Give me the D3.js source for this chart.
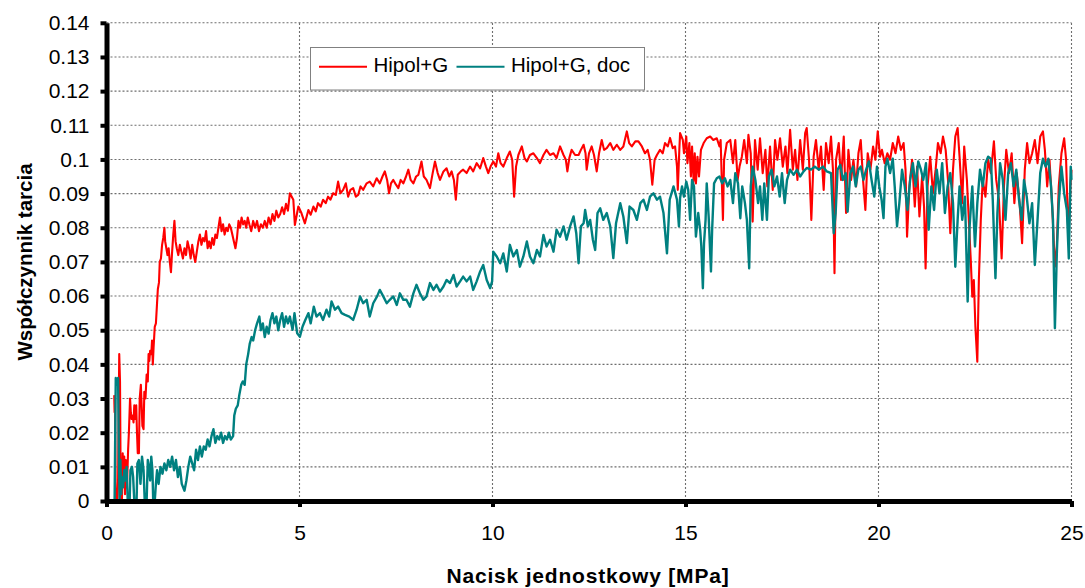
<!DOCTYPE html>
<html lang="pl">
<head>
<meta charset="utf-8">
<script src="https://d3js.org/d3.v7.min.js"></script>
<style type="text/css">
	body { margin:0; background:#fff; }
	svg { display:block; font-family:"Liberation Sans", Arial, sans-serif; }
</style>
</head>
<body>
<script type="text/javascript">
// series names (legend)
var seriesNames = ["Hipol+G", "Hipol+G, doc"];

// Hipol+G  [nacisk MPa, wspolczynnik]
var hipolG = [
 [0.20,0.031],[0.21,0.026],[0.22,0.030],[0.24,0.000],[0.28,0.000],[0.30,0.006],[0.33,0.043],[0.35,0.035],[0.37,0.000],[0.40,0.000],
 [0.42,0.014],[0.44,0.005],[0.46,0.013],[0.48,0.002],[0.50,0.012],[0.53,0.004],[0.56,0.015],[0.58,0.020],[0.61,0.030],[0.63,0.026],
 [0.65,0.024],[0.68,0.025],[0.70,0.023],[0.72,0.028],[0.74,0.024],[0.77,0.028],[0.79,0.020],[0.81,0.014],[0.84,0.014],[0.86,0.030],
 [0.89,0.034],[0.91,0.028],[0.93,0.022],[0.96,0.021],[0.98,0.032],[1.01,0.030],[1.04,0.037],[1.07,0.035],[1.09,0.043],[1.11,0.041],
 [1.13,0.044],[1.16,0.043],[1.18,0.047],[1.20,0.040],[1.22,0.045],[1.25,0.051],[1.28,0.052],[1.31,0.058],[1.33,0.062],[1.36,0.064],
 [1.38,0.070],[1.41,0.071],[1.44,0.075],[1.47,0.077],[1.50,0.080],[1.52,0.076],[1.55,0.074],[1.58,0.072],[1.61,0.074],[1.64,0.070],
 [1.67,0.067],[1.70,0.073],[1.73,0.078],[1.76,0.082],[1.79,0.076],[1.82,0.074],[1.86,0.072],[1.90,0.075],[1.94,0.073],[1.98,0.071],
 [2.02,0.074],[2.06,0.072],[2.10,0.076],[2.14,0.074],[2.18,0.071],[2.22,0.075],[2.26,0.072],[2.30,0.070],[2.34,0.073],[2.38,0.076],
 [2.42,0.078],[2.46,0.075],[2.50,0.077],[2.54,0.076],[2.58,0.079],[2.62,0.074],[2.66,0.076],[2.70,0.074],[2.74,0.077],[2.78,0.075],
 [2.82,0.078],[2.86,0.077],[2.90,0.080],[2.94,0.083],[2.98,0.079],[3.02,0.081],[3.06,0.078],[3.10,0.080],[3.14,0.079],[3.18,0.081],
 [3.22,0.080],[3.26,0.078],[3.30,0.076],[3.34,0.074],[3.38,0.077],[3.42,0.082],[3.46,0.080],[3.50,0.083],[3.54,0.081],[3.58,0.082],
 [3.62,0.080],[3.66,0.083],[3.70,0.081],[3.75,0.079],[3.80,0.082],[3.85,0.080],[3.90,0.082],[3.95,0.079],[4.00,0.081],[4.05,0.080],
 [4.10,0.082],[4.15,0.080],[4.20,0.083],[4.25,0.081],[4.30,0.084],[4.35,0.082],[4.40,0.085],[4.45,0.083],[4.50,0.084],[4.55,0.086],
 [4.60,0.084],[4.65,0.087],[4.70,0.085],
 [4.75,0.0901],[4.84,0.0882],[4.88,0.0808],[4.97,0.0862],[5.05,0.0843],[5.14,0.0813],[5.23,0.0852],[5.29,0.0838],[5.36,0.0862],[5.42,0.0848],
 [5.48,0.0872],[5.55,0.0862],[5.61,0.0882],[5.68,0.0872],[5.74,0.0891],[5.80,0.0882],[5.87,0.0901],[5.94,0.0896],[6.00,0.0935],[6.06,0.0901],
 [6.13,0.0911],[6.20,0.0930],[6.26,0.0891],[6.32,0.0911],[6.39,0.0916],[6.46,0.0891],[6.52,0.0896],[6.58,0.0921],[6.65,0.0911],[6.74,0.0930],
 [6.82,0.0935],[6.91,0.0921],[7.00,0.0945],[7.08,0.0930],[7.15,0.0950],[7.21,0.0965],[7.27,0.0940],[7.32,0.0901],[7.37,0.0930],[7.43,0.0940],
 [7.50,0.0926],[7.56,0.0916],[7.62,0.0940],[7.69,0.0930],[7.76,0.0950],[7.82,0.0970],[7.88,0.0940],[7.95,0.0930],[8.02,0.0950],[8.08,0.0955],
 [8.16,0.0994],[8.22,0.0950],[8.29,0.0940],[8.38,0.0916],[8.45,0.0960],[8.51,0.0994],[8.58,0.0960],[8.64,0.0940],[8.73,0.0965],[8.81,0.0974],
 [8.88,0.0950],[8.94,0.0965],[9.00,0.0940],[9.05,0.0882],[9.10,0.0955],[9.18,0.0965],[9.24,0.0970],[9.33,0.0960],[9.42,0.0979],[9.50,0.0965],
 [9.59,0.0989],[9.68,0.0974],[9.76,0.1004],[9.83,0.0979],[9.89,0.0960],[9.95,0.0979],[10.02,0.0994],[10.09,0.0979],[10.15,0.1018],[10.21,0.0989],
 [10.28,0.0979],[10.37,0.1004],[10.45,0.1023],[10.51,0.0999],[10.56,0.0891],[10.61,0.0979],[10.67,0.1013],[10.76,0.1038],[10.83,0.1004],[10.89,0.0994],
 [10.97,0.1013],[11.06,0.1018],[11.15,0.1004],[11.23,0.0989],[11.32,0.1013],[11.40,0.1028],[11.49,0.1013],[11.58,0.1018],[11.66,0.1004],[11.75,0.1038],
 [11.84,0.1013],[11.90,0.0999],[11.94,0.0965],[11.99,0.1004],[12.05,0.1028],[12.14,0.1013],[12.23,0.1013],[12.29,0.1028],[12.36,0.1043],[12.41,0.1018],
 [12.44,0.0970],[12.50,0.1018],[12.57,0.1038],[12.63,0.1013],[12.70,0.0965],[12.76,0.1018],[12.83,0.1057],[12.89,0.1028],[12.96,0.1033],[13.05,0.1048],
 [13.13,0.1028],[13.22,0.1043],[13.31,0.1028],[13.39,0.1038],[13.48,0.1082],[13.54,0.1048],[13.61,0.1038],[13.70,0.1053],[13.78,0.1053],[13.87,0.1038],
 [13.95,0.1018],[14.02,0.1028],[14.08,0.0999],[14.14,0.0926],[14.20,0.0999],[14.26,0.1013],[14.34,0.1028],[14.41,0.1018],[14.47,0.1048],[14.54,0.1038],
 [14.60,0.1063],[14.67,0.1033],[14.73,0.1038],[14.78,0.0979],[14.80,0.0911],[14.84,0.1028],
 [14.86,0.1077],[14.93,0.1057],[14.96,0.1018],[15.02,0.1067],[15.05,0.0989],[15.10,0.1048],[15.14,0.0950],[15.17,0.1038],[15.21,0.0935],[15.24,0.1018],
 [15.27,0.0930],[15.31,0.1008],[15.35,0.0950],[15.40,0.1028],[15.47,0.1048],[15.55,0.1062],[15.64,0.1067],[15.72,0.1057],[15.81,0.1062],[15.88,0.1038],
 [15.91,0.1057],[15.97,0.0823],[16.00,0.0999],[16.07,0.1048],[16.16,0.1057],[16.23,0.0989],[16.29,0.1057],[16.35,0.0940],[16.40,0.0979],[16.46,0.1008],
 [16.52,0.1057],[16.59,0.0989],[16.63,0.1072],[16.69,0.1018],[16.74,0.0818],[16.80,0.1057],[16.87,0.0970],[16.93,0.1062],[17.00,0.0960],[17.07,0.1028],
 [17.12,0.0921],[17.19,0.1038],[17.26,0.0911],[17.32,0.1057],[17.38,0.0999],[17.45,0.1062],[17.52,0.0979],[17.59,0.1038],[17.64,0.0960],[17.71,0.1087],
 [17.78,0.0970],[17.84,0.1028],[17.90,0.0940],[17.97,0.1057],[18.04,0.0970],[18.10,0.1077],[18.14,0.1092],[18.20,0.0999],[18.26,0.0823],[18.32,0.1008],
 [18.38,0.1057],[18.45,0.0970],[18.51,0.1038],[18.58,0.0911],[18.64,0.1048],[18.71,0.0989],[18.77,0.1067],[18.82,0.0970],[18.86,0.0667],[18.90,0.0999],
 [18.97,0.1048],[19.03,0.0940],[19.10,0.1067],[19.16,0.0843],[19.22,0.1028],[19.29,0.0940],[19.35,0.0999],[19.42,0.0921],[19.48,0.1018],[19.54,0.1057],
 [19.60,0.0940],[19.66,0.0852],[19.72,0.1018],[19.79,0.0970],[19.86,0.1038],[19.92,0.0999],[19.98,0.1082],
 [20.04,0.1008],[20.09,0.1028],[20.16,0.0989],[20.23,0.1018],[20.30,0.0999],[20.37,0.1048],[20.44,0.1018],[20.51,0.1067],[20.58,0.1028],[20.65,0.1048],
 [20.70,0.0970],[20.74,0.0774],[20.80,0.0921],[20.87,0.0999],[20.94,0.0862],[21.00,0.0979],[21.06,0.0833],[21.13,0.0950],[21.18,0.0862],[21.22,0.0681],
 [21.27,0.0921],[21.34,0.1008],[21.41,0.0901],[21.48,0.0970],[21.54,0.1048],[21.61,0.1018],[21.67,0.1067],[21.74,0.1028],[21.80,0.0940],[21.86,0.0784],
 [21.93,0.0970],[21.99,0.1067],[22.05,0.1092],[22.10,0.1008],[22.17,0.0872],[22.22,0.1038],[22.29,0.0940],[22.34,0.0823],[22.39,0.0706],[22.43,0.0598],
 [22.47,0.0647],[22.51,0.0511],[22.56,0.0408],[22.60,0.0647],[22.65,0.0823],[22.70,0.0940],[22.77,0.0891],[22.84,0.0999],[22.91,0.0960],[22.99,0.1053],
 [23.05,0.0940],[23.12,0.0882],[23.19,0.0710],[23.25,0.0921],[23.31,0.1028],[23.38,0.0960],[23.45,0.1018],[23.52,0.0872],[23.58,0.0960],[23.65,0.0882],
 [23.72,0.0755],[23.79,0.0970],[23.85,0.1048],[23.91,0.0989],[23.98,0.1018],[24.05,0.1057],[24.12,0.0989],[24.19,0.1067],[24.26,0.1082],[24.31,0.1028],
 [24.37,0.0921],[24.43,0.0999],[24.50,0.0862],[24.57,0.0686],[24.62,0.0745],[24.67,0.0921],[24.74,0.1018],[24.81,0.1062],[24.86,0.0999],[24.92,0.0764],
 [24.97,0.0921],[25.00,0.0970]
];

// Hipol+G, doc
var hipolGDoc = [
 [0.21,0.000],[0.24,0.036],[0.27,0.034],[0.30,0.036],[0.32,0.015],[0.34,0.000],[0.36,0.012],[0.38,0.002],[0.40,0.007],[0.43,0.004],
 [0.46,0.009],[0.49,0.006],[0.52,0.010],[0.55,0.000],[0.60,0.000],[0.62,0.009],[0.66,0.010],[0.69,0.007],[0.72,0.000],[0.78,0.000],
 [0.80,0.011],[0.84,0.012],[0.88,0.005],[0.92,0.013],[0.96,0.009],[0.99,0.000],[1.04,0.000],[1.07,0.012],[1.10,0.010],[1.13,0.006],
 [1.16,0.013],[1.19,0.009],[1.21,0.000],[1.25,0.000],[1.28,0.005],[1.31,0.009],[1.35,0.005],[1.40,0.010],[1.45,0.008],[1.50,0.011],
 [1.55,0.009],[1.60,0.012],[1.65,0.010],[1.70,0.013],[1.75,0.009],[1.80,0.012],[1.85,0.007],[1.90,0.010],[1.95,0.005],[2.02,0.003],
 [2.07,0.006],[2.12,0.010],[2.17,0.013],[2.22,0.011],[2.27,0.009],[2.32,0.015],[2.37,0.012],[2.42,0.016],[2.47,0.013],[2.52,0.016],
 [2.57,0.015],[2.62,0.018],[2.67,0.016],[2.72,0.019],[2.77,0.021],[2.82,0.017],[2.87,0.019],[2.92,0.018],[2.97,0.020],[3.02,0.017],
 [3.07,0.019],[3.12,0.018],[3.17,0.020],[3.22,0.018],[3.28,0.019],[3.31,0.025],[3.35,0.027],[3.40,0.028],[3.44,0.031],[3.49,0.034],
 [3.53,0.035],[3.58,0.034],[3.62,0.040],[3.67,0.043],[3.71,0.046],[3.76,0.048],[3.80,0.047],[3.85,0.050],[3.90,0.052],[3.96,0.054],
 [4.00,0.050],[4.05,0.052],[4.10,0.048],[4.15,0.051],[4.20,0.049],[4.25,0.053],[4.30,0.055],[4.35,0.052],[4.40,0.054],[4.45,0.050],
 [4.50,0.053],[4.55,0.055],[4.60,0.051],[4.65,0.054],[4.70,0.052],
 [4.75,0.0540],[4.82,0.0501],[4.87,0.0550],[4.94,0.0491],[5.01,0.0481],[5.08,0.0511],[5.15,0.0530],[5.23,0.0550],[5.29,0.0520],[5.37,0.0569],
 [5.44,0.0540],[5.53,0.0550],[5.61,0.0530],[5.70,0.0560],[5.77,0.0540],[5.83,0.0584],[5.92,0.0560],[6.00,0.0569],[6.09,0.0550],[6.18,0.0545],
 [6.29,0.0540],[6.39,0.0530],[6.48,0.0560],[6.57,0.0599],[6.65,0.0579],[6.74,0.0589],[6.82,0.0540],[6.91,0.0579],[7.01,0.0599],[7.08,0.0618],
 [7.17,0.0599],[7.26,0.0579],[7.34,0.0589],[7.43,0.0599],[7.52,0.0574],[7.60,0.0608],[7.69,0.0589],[7.77,0.0589],[7.86,0.0569],[7.95,0.0608],
 [8.03,0.0633],[8.12,0.0608],[8.21,0.0589],[8.29,0.0599],[8.38,0.0638],[8.47,0.0618],[8.55,0.0633],[8.64,0.0613],[8.73,0.0628],[8.81,0.0647],
 [8.90,0.0638],[8.99,0.0662],[9.07,0.0628],[9.16,0.0643],[9.24,0.0657],[9.33,0.0643],[9.42,0.0657],[9.50,0.0618],[9.59,0.0643],[9.68,0.0672],
 [9.76,0.0691],[9.85,0.0647],[9.94,0.0623],[9.99,0.0643],[10.02,0.0730],[10.11,0.0716],[10.20,0.0696],[10.28,0.0725],[10.37,0.0672],[10.45,0.0750],
 [10.54,0.0716],[10.63,0.0735],[10.71,0.0686],[10.80,0.0716],[10.89,0.0760],[10.97,0.0716],[11.06,0.0696],[11.15,0.0735],[11.23,0.0716],[11.32,0.0779],
 [11.40,0.0745],[11.49,0.0765],[11.58,0.0730],[11.66,0.0794],[11.75,0.0774],[11.84,0.0804],[11.92,0.0765],[12.01,0.0804],[12.10,0.0833],[12.17,0.0784],
 [12.23,0.0696],[12.29,0.0804],[12.36,0.0813],[12.40,0.0852],[12.47,0.0804],[12.53,0.0823],[12.60,0.0765],[12.66,0.0735],[12.72,0.0843],[12.79,0.0857],
 [12.87,0.0823],[12.96,0.0843],[13.05,0.0804],[13.13,0.0711],[13.20,0.0813],[13.31,0.0872],[13.39,0.0833],[13.48,0.0755],[13.55,0.0862],[13.65,0.0852],
 [13.74,0.0823],[13.83,0.0872],[13.91,0.0882],[14.00,0.0852],[14.08,0.0891],[14.17,0.0901],[14.26,0.0882],[14.34,0.0891],[14.43,0.0843],[14.52,0.0725],
 [14.59,0.0882],[14.69,0.0921],[14.78,0.0882],[14.83,0.0804],
 [14.86,0.0887],[14.91,0.0921],[14.96,0.0891],[15.02,0.0935],[15.07,0.0911],[15.12,0.0823],[15.17,0.0940],[15.22,0.0921],[15.27,0.0774],[15.33,0.0843],
 [15.38,0.0794],[15.41,0.0745],[15.45,0.0623],[15.48,0.0755],[15.52,0.0823],[15.55,0.0930],[15.60,0.0833],[15.66,0.0672],[15.69,0.0794],[15.74,0.0930],
 [15.81,0.0945],[15.88,0.0950],[15.95,0.0930],[16.02,0.0945],[16.09,0.0921],[16.16,0.0940],[16.23,0.0872],[16.29,0.0960],[16.36,0.0930],[16.42,0.0828],
 [16.47,0.0921],[16.54,0.0872],[16.59,0.0823],[16.65,0.0681],[16.69,0.0921],[16.74,0.0979],[16.81,0.0940],[16.88,0.0872],[16.93,0.0921],[16.99,0.0823],
 [17.04,0.0930],[17.11,0.0823],[17.16,0.0950],[17.23,0.0970],[17.30,0.0921],[17.37,0.0950],[17.44,0.0891],[17.50,0.0960],[17.57,0.0872],[17.63,0.0940],
 [17.71,0.0970],[17.80,0.0955],[17.89,0.0970],[17.97,0.0950],[18.06,0.0965],[18.14,0.0975],[18.25,0.0970],[18.35,0.0979],[18.46,0.0970],[18.56,0.0979],
 [18.66,0.0965],[18.77,0.0960],[18.84,0.0784],[18.89,0.0843],[18.94,0.0970],[19.01,0.0984],[19.08,0.0940],[19.15,0.0960],[19.20,0.0847],[19.27,0.0960],
 [19.34,0.0979],[19.41,0.0921],[19.48,0.0970],[19.54,0.0979],[19.61,0.0940],[19.68,0.0970],[19.75,0.0994],[19.82,0.0940],[19.89,0.0891],[19.96,0.0979],
 [20.02,0.0921],[20.08,0.0882],[20.13,0.0828],[20.18,0.0979],[20.23,0.1002],[20.30,0.0960],[20.37,0.1002],[20.42,0.0921],[20.48,0.0804],[20.54,0.0872],
 [20.61,0.0970],[20.68,0.0921],[20.75,0.0852],[20.82,0.0940],[20.89,0.0989],[20.96,0.0921],[21.03,0.0994],[21.10,0.0970],[21.16,0.0940],[21.23,0.0989],
 [21.30,0.0794],[21.37,0.0921],[21.44,0.0852],[21.51,0.0970],[21.58,0.0901],[21.65,0.0989],[21.72,0.0843],[21.79,0.0921],[21.86,0.0960],[21.93,0.0872],
 [21.99,0.0686],[22.05,0.0823],[22.10,0.0921],[22.17,0.0823],[22.24,0.0891],[22.31,0.0584],[22.36,0.0804],[22.43,0.0921],[22.50,0.0745],[22.56,0.0872],
 [22.63,0.0970],[22.70,0.0921],[22.77,0.0989],[22.84,0.1008],[22.91,0.1002],[22.96,0.0882],[23.03,0.0652],[23.08,0.0843],[23.15,0.0989],[23.22,0.0940],
 [23.29,0.0823],[23.36,0.0960],[23.43,0.0989],[23.50,0.0921],[23.57,0.0970],[23.64,0.0882],[23.71,0.0823],[23.77,0.0940],[23.84,0.0891],[23.91,0.0813],
 [23.98,0.0872],[24.05,0.0691],[24.12,0.0823],[24.19,0.0960],[24.26,0.1002],[24.33,0.0979],[24.40,0.1002],[24.47,0.0921],[24.52,0.0823],[24.57,0.0506],
 [24.62,0.0725],[24.67,0.0872],[24.74,0.0979],[24.81,0.0901],[24.88,0.0852],[24.93,0.0710],[24.98,0.0979],[25.00,0.0940]
];

// axis ticks
var xTicks = [0, 5, 10, 15, 20, 25];
var xTickLabels = ["0", "5", "10", "15", "20", "25"];
var yTicks = [0, 0.01, 0.02, 0.03, 0.04, 0.05, 0.06, 0.07, 0.08, 0.09, 0.1, 0.11, 0.12, 0.13, 0.14];
var yTickLabels = ["0", "0.01", "0.02", "0.03", "0.04", "0.05", "0.06", "0.07", "0.08", "0.09", "0.1", "0.11", "0.12", "0.13", "0.14"];

var xTitle = "Nacisk jednostkowy [MPa]";
var yTitle = "Współczynnik tarcia";

var W = 1085, H = 588;
var svg = d3.select("body").append("svg").attr("width", W).attr("height", H);

var x = d3.scaleLinear().domain([0, 25]).range([106.5, 1071.5]);
var y = d3.scaleLinear().domain([0, 0.14]).range([501, 22.8]);

// gridlines - dotted grey
var grid = svg.append("g");
grid.selectAll("line.h").data(yTicks.slice(1)).enter().append("line")
	.attr("x1", x(0)).attr("x2", x(25))
	.attr("y1", function(d){ return y(d); }).attr("y2", function(d){ return y(d); });
grid.selectAll("line.v").data(xTicks.slice(1)).enter().append("line")
	.attr("x1", function(d){ return x(d); }).attr("x2", function(d){ return x(d); })
	.attr("y1", y(0)).attr("y2", y(0.14));
grid.selectAll("line")
	.attr("stroke", "#6e6e6e").attr("stroke-width", 1.1).attr("stroke-dasharray", "2,2");

// lines
var line = d3.line().x(function(d){ return x(d[0]); }).y(function(d){ return y(d[1]); });
svg.append("path").datum(hipolG).attr("d", line)
	.attr("fill", "none").attr("stroke", "#ff0000").attr("stroke-width", 2.1).attr("stroke-linejoin", "round");
svg.append("path").datum(hipolGDoc).attr("d", line)
	.attr("fill", "none").attr("stroke", "#008080").attr("stroke-width", 2.4).attr("stroke-linejoin", "round");

// axes
var yAxis = d3.axisLeft(y).tickValues(yTicks)
	.tickFormat(function(d, i){ return yTickLabels[i]; })
	.tickSize(6).tickSizeOuter(0).tickPadding(11);
var xAxis = d3.axisBottom(x).tickValues(xTicks)
	.tickFormat(function(d, i){ return xTickLabels[i]; })
	.tickSize(6).tickSizeOuter(0).tickPadding(18);

var gx = svg.append("g").attr("transform", "translate(0," + y(0) + ")").call(xAxis);
var gy = svg.append("g").attr("transform", "translate(" + x(0) + ",0)").call(yAxis);
[gx, gy].forEach(function(g){
	g.select(".domain").attr("stroke", "#000").attr("stroke-width", 5);
	g.selectAll(".tick line").attr("stroke", "#000").attr("stroke-width", 4);
	g.selectAll(".tick text").attr("fill", "#000")
		.style("font-family", "'Liberation Sans', Arial, sans-serif").style("font-size", "21px");
});

// axis titles
svg.append("text").attr("x", 588).attr("y", 583)
	.attr("text-anchor", "middle").style("font-weight", "bold").style("font-size", "21px")
	.style("letter-spacing", "0.8px").text(xTitle);
svg.append("text").attr("transform", "translate(32,262) rotate(-90)")
	.attr("text-anchor", "middle").style("font-weight", "bold").style("font-size", "20.5px")
	.text(yTitle);

// legend
var lg = svg.append("g");
lg.append("rect").attr("x", 310.5).attr("y", 47.5).attr("width", 334).attr("height", 42.5)
	.attr("fill", "#fff").attr("stroke", "#808080").attr("stroke-width", 1);
var legendColors = ["#ff0000", "#008080"];
var legendX = [319, 456.5];
seriesNames.forEach(function(n, i){
	lg.append("line").attr("x1", legendX[i]).attr("x2", legendX[i] + 48)
		.attr("y1", 66.7).attr("y2", 66.7)
		.attr("stroke", legendColors[i]).attr("stroke-width", 2);
	lg.append("text").attr("x", legendX[i] + 54.5).attr("y", 72.3)
		.style("font-size", "20.5px").text(n);
});
</script>
</body>
</html>
